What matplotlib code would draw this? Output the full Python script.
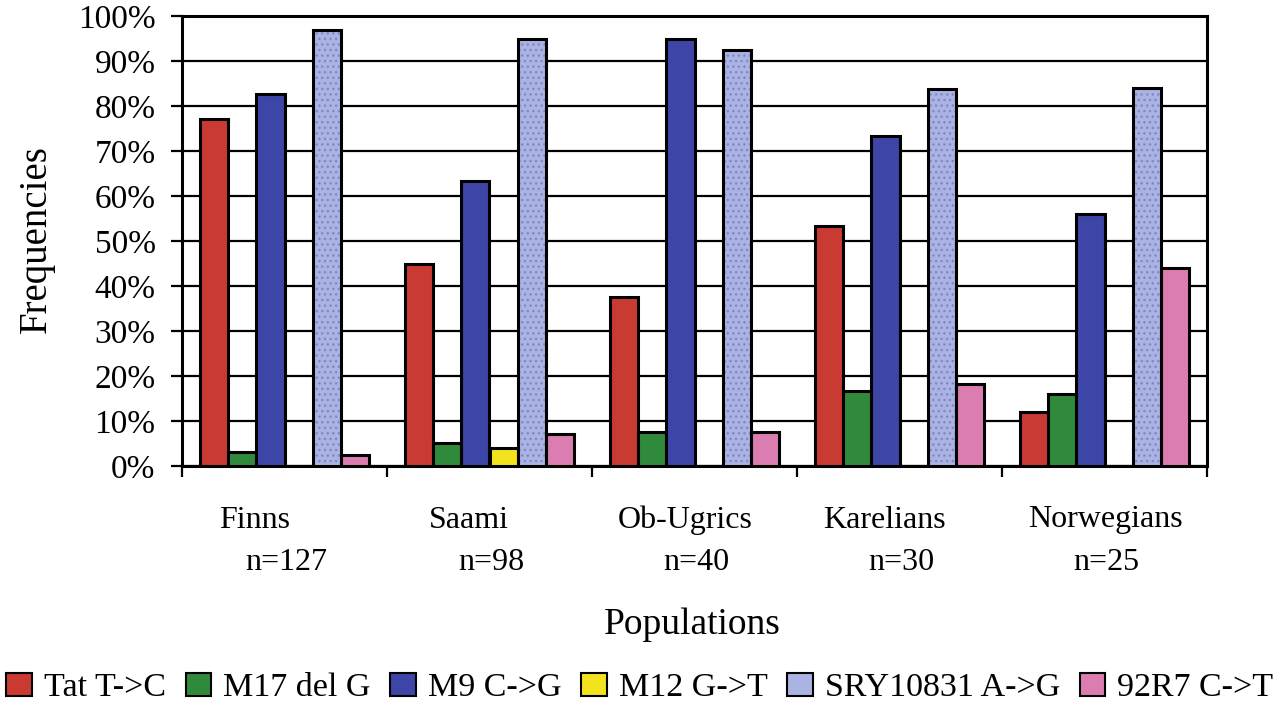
import numpy as np
import matplotlib
matplotlib.use("Agg")
import matplotlib.pyplot as plt
from matplotlib.patches import Patch
from matplotlib.ticker import PercentFormatter, FixedLocator

plt.rcParams['font.family'] = ['Liberation Serif', 'DejaVu Serif']

# data (frequencies in %)
populations = ["Finns", "Saami", "Ob-Ugrics", "Karelians", "Norwegians"]
sample_sizes = ["n=127", "n=98", "n=40", "n=30", "n=25"]
markers = ["Tat T->C", "M17 del G", "M9 C->G", "M12 G->T", "SRY10831 A->G", "92R7 C->T"]

tat = [77.2, 44.9, 37.5, 53.3, 12.0]
m17 = [3.1, 5.1, 7.5, 16.7, 16.0]
m9 = [82.7, 63.3, 95.0, 73.3, 56.0]
m12 = [0.0, 4.1, 0.0, 0.0, 0.0]
sry = [96.9, 94.9, 92.5, 83.8, 84.0]
r92 = [2.4, 7.1, 7.5, 18.3, 44.0]

series = [tat, m17, m9, m12, sry, r92]
colors = ["#C83A32", "#2F8A3C", "#3D45A6", "#F3E31E", "#AAB3E2", "#DC7DB2"]

# layout tweaks
name_dx = [-30, -21, -9, -15, 1]   # px shift of population names

fig = plt.figure(figsize=(12.8, 7.09), dpi=100)
ax = fig.add_axes([182/1280, 1 - 466/709, (1207 - 182)/1280, (466 - 16)/709])

x = np.arange(len(populations))
w = 0.1366
for k, vals in enumerate(series):
    pos = x + (k - 2.5) * w
    if k == 4:
        # speckled bars
        ax.bar(pos, vals, w, color=colors[k], edgecolor="#7D89C8", hatch="...",
               linewidth=0, zorder=3)
        ax.bar(pos, vals, w, fill=False, edgecolor="black", linewidth=2.2, zorder=4)
    else:
        ax.bar(pos, vals, w, color=colors[k], edgecolor="black", linewidth=2.2, zorder=3)

ax.set_xlim(-0.5, len(populations) - 0.5)
ax.set_ylim(0, 100)
ax.yaxis.set_major_locator(FixedLocator(np.arange(0, 101, 10)))
ax.yaxis.set_major_formatter(PercentFormatter(decimals=0))
ax.grid(axis="y", color="black", linewidth=1.6, zorder=0)
ax.set_axisbelow(True)

ax.set_xticks(np.arange(-0.5, len(populations), 1.0))
ax.set_xticklabels([])
ax.tick_params(axis="x", direction="out", length=8, width=1.6)
ax.tick_params(axis="y", direction="out", length=8, width=1.6, pad=11, labelsize=24)
for s in ax.spines.values():
    s.set_linewidth(2.2)

trans = ax.get_xaxis_transform()
for i in range(len(populations)):
    ax.annotate(populations[i], xy=(x[i], 0), xycoords=trans,
                xytext=(name_dx[i], -54), textcoords="offset pixels",
                ha="center", va="center", fontsize=23, annotation_clip=False)
    ax.annotate(sample_sizes[i], xy=(x[i], 0), xycoords=trans,
                xytext=(2, -97), textcoords="offset pixels",
                ha="center", va="center", fontsize=23, annotation_clip=False)

fig.text(36/1280, 1 - 239/709, "Frequencies", rotation=90, ha="center", va="center", fontsize=28)
fig.text(692/1280, 1 - 625/709, "Populations", ha="center", va="center", fontsize=27)

handles = [Patch(facecolor=c, edgecolor="black", linewidth=1.5) for c in colors]
fig.legend(handles, markers, loc="center", bbox_to_anchor=(0.5, 1 - 688/709), ncol=6,
           frameon=False, fontsize=24.5, handlelength=0.75, handleheight=0.65,
           handletextpad=0.36, columnspacing=0.57, borderpad=0, borderaxespad=0)

fig.savefig("out.png", dpi=100)
